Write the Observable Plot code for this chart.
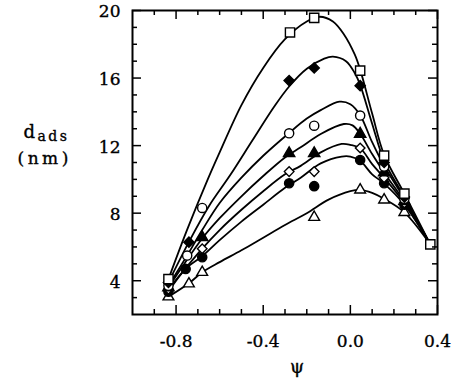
<!DOCTYPE html>
<html><head><meta charset="utf-8">
<script src="https://cdn.jsdelivr.net/npm/d3@7"></script>
<script src="https://cdn.jsdelivr.net/npm/@observablehq/plot@0.6"></script>
<style>
body{margin:0;background:#fff;}
#wrap{width:460px;height:386px;}
</style></head><body>
<div id="wrap"></div>
<script>
// tick values
const xTicksMajor = [-0.8, -0.4, 0.0, 0.4];
const xTicksMinor = [-0.9, -0.7, -0.6, -0.5, -0.3, -0.2, -0.1, 0.1, 0.2, 0.3];
const yTicksMajor = [4, 8, 12, 16, 20];
const yTicksMinor = [3, 5, 6, 7, 9, 10, 11, 13, 14, 15, 17, 18, 19];

// measured points [psi, d_ads]
const openSquarePts = [[-0.835,4.1],[-0.277,18.7],[-0.166,19.56],[0.045,16.44],[0.155,11.41],[0.248,9.16],[0.367,6.15]];
const filledDiamondPts = [[-0.835,3.9],[-0.741,6.28],[-0.281,15.85],[-0.166,16.6],[0.045,15.55],[0.155,11.0],[0.248,8.95]];
const openCirclePts = [[-0.835,3.7],[-0.749,5.49],[-0.68,8.31],[-0.281,12.73],[-0.166,13.18],[0.045,13.78],[0.155,10.76],[0.248,8.85]];
const filledTrianglePts = [[-0.835,3.6],[-0.68,6.57],[-0.281,11.54],[-0.166,11.54],[0.045,12.69],[0.155,10.4],[0.248,8.7]];
const openDiamondPts = [[-0.835,3.5],[-0.68,5.89],[-0.281,10.46],[-0.166,10.46],[0.045,11.86],[0.155,10.1],[0.248,8.6]];
const filledCirclePts = [[-0.835,3.35],[-0.756,4.7],[-0.68,5.39],[-0.281,9.77],[-0.166,9.6],[0.045,11.15],[0.155,9.77],[0.248,8.5]];
const openTrianglePts = [[-0.835,3.05],[-0.741,3.82],[-0.68,4.5],[-0.166,7.76],[0.045,9.38],[0.155,8.79],[0.248,8.05]];

// fitted curves
const openSquareFit = [[-0.835,4.1],[-0.75,7.0],[-0.657,9.93],[-0.6,11.6],[-0.5,14.4],[-0.4,16.6],[-0.3,18.3],[-0.2,19.35],[-0.14,19.63],[-0.08,19.35],[-0.03,18.6],[0.02,17.4],[0.045,16.5],[0.1,13.9],[0.155,11.45],[0.248,9.15],[0.367,6.15]];
const filledDiamondFit = [[-0.835,3.9],[-0.741,6.3],[-0.65,8.4],[-0.549,10.3],[-0.45,12.3],[-0.35,14.3],[-0.281,15.5],[-0.2,16.55],[-0.12,17.15],[-0.08,17.27],[-0.02,17.0],[0.02,16.3],[0.045,15.6],[0.1,13.3],[0.155,11.1],[0.248,8.95],[0.367,6.15]];
const openCircleFit = [[-0.835,3.7],[-0.749,5.5],[-0.68,7.0],[-0.6,8.6],[-0.5,10.1],[-0.4,11.4],[-0.281,12.75],[-0.2,13.6],[-0.136,14.1],[-0.05,14.6],[0.0,14.45],[0.045,13.8],[0.1,12.2],[0.155,10.8],[0.248,8.85],[0.367,6.15]];
const filledTriangleFit = [[-0.835,3.6],[-0.68,6.5],[-0.6,7.7],[-0.5,9.0],[-0.4,10.2],[-0.3,11.3],[-0.228,11.9],[-0.136,12.69],[-0.03,13.28],[0.01,13.2],[0.045,12.7],[0.1,11.5],[0.155,10.4],[0.248,8.7],[0.367,6.15]];
const openDiamondFit = [[-0.835,3.5],[-0.68,5.9],[-0.6,7.0],[-0.5,8.2],[-0.4,9.3],[-0.3,10.3],[-0.228,10.8],[-0.136,11.6],[-0.04,12.1],[0.0,12.05],[0.045,11.85],[0.1,10.9],[0.155,10.1],[0.248,8.6],[0.367,6.15]];
const filledCircleFit = [[-0.835,3.35],[-0.756,4.7],[-0.68,5.45],[-0.6,6.4],[-0.5,7.5],[-0.4,8.5],[-0.3,9.5],[-0.228,10.1],[-0.136,10.95],[-0.04,11.35],[0.0,11.35],[0.045,11.1],[0.1,10.3],[0.155,9.75],[0.248,8.5],[0.367,6.15]];
const openTriangleFit = [[-0.835,3.05],[-0.741,3.85],[-0.68,4.5],[-0.6,5.1],[-0.5,5.8],[-0.4,6.55],[-0.3,7.3],[-0.2,8.0],[-0.1,8.8],[0.0,9.3],[0.045,9.38],[0.1,9.2],[0.155,8.85],[0.248,8.05],[0.367,6.15]];

const W = 460, H = 386;
const mL = 132, mR = 23, mT = 10, mB = 72;
const PW = W - mL - mR, PH = H - mT - mB;

const fits = [openTriangleFit, filledCircleFit, openDiamondFit, filledTriangleFit, openCircleFit, filledDiamondFit, openSquareFit];
const series = [
  {pts: openTrianglePts, symbol: "triangle", r: 4.0, fill: "white"},
  {pts: filledCirclePts, symbol: "circle", r: 4.6, fill: "black"},
  {pts: openDiamondPts, symbol: "diamond2", r: 4.3, fill: "white"},
  {pts: filledTrianglePts, symbol: "triangle", r: 4.2, fill: "black"},
  {pts: openCirclePts, symbol: "circle", r: 4.6, fill: "white"},
  {pts: filledDiamondPts, symbol: "diamond2", r: 4.6, fill: "black"},
  {pts: openSquarePts, symbol: "square", r: 5.2, fill: "white"}
];

const X = d => d[0], Y = d => d[1];
const marks = [];
for (const f of fits) marks.push(Plot.line(f, {x: X, y: Y, curve: "catmull-rom", stroke: "black", strokeWidth: 1.8}));
for (const s of series) marks.push(Plot.dot(s.pts, {x: X, y: Y, symbol: s.symbol, r: s.r, fill: s.fill, stroke: "black", strokeWidth: 1.4}));
// inward ticks on all four sides
marks.push(
  Plot.ruleX(xTicksMajor, {x: d => d, insetTop: PH - 9, strokeWidth: 1.5}),
  Plot.ruleX(xTicksMinor, {x: d => d, insetTop: PH - 5, strokeWidth: 1.5}),
  Plot.ruleX(xTicksMajor, {x: d => d, insetBottom: PH - 9, strokeWidth: 1.5}),
  Plot.ruleX(xTicksMinor, {x: d => d, insetBottom: PH - 5, strokeWidth: 1.5}),
  Plot.ruleY(yTicksMajor, {y: d => d, insetRight: PW - 9, strokeWidth: 1.5}),
  Plot.ruleY(yTicksMinor, {y: d => d, insetRight: PW - 5, strokeWidth: 1.5}),
  Plot.ruleY(yTicksMajor, {y: d => d, insetLeft: PW - 9, strokeWidth: 1.5}),
  Plot.ruleY(yTicksMinor, {y: d => d, insetLeft: PW - 5, strokeWidth: 1.5}),
  Plot.frame({stroke: "black", strokeWidth: 2}),
  Plot.axisX({ticks: xTicksMajor, tickSize: 0, tickPadding: 20, tickFormat: d => d.toFixed(1), label: null}),
  Plot.axisY({ticks: yTicksMajor, tickSize: 0, tickPadding: 12, dy: 1.5, tickFormat: d => String(d), label: null}),
  Plot.text(["ψ"], {frameAnchor: "bottom", dx: 12, dy: 58, fontSize: 18}),
  Plot.text(["d"], {frameAnchor: "left", dx: -109, dy: -25, textAnchor: "start", lineAnchor: "bottom", fontSize: 18}),
  Plot.text(["ads"], {frameAnchor: "left", dx: -95, dy: -22, textAnchor: "start", lineAnchor: "bottom", fontSize: 14}),
  Plot.text(["(nm)"], {frameAnchor: "left", dx: -115, dy: 1, textAnchor: "start", lineAnchor: "bottom", fontSize: 17})
);

const chart = Plot.plot({
  width: W, height: H,
  marginLeft: mL, marginRight: mR, marginTop: mT, marginBottom: mB,
  x: {domain: [-1.0, 0.4]},
  y: {domain: [2, 20]},
  style: {fontFamily: "DejaVu Serif", fontSize: "17px", color: "black", background: "white"},
  marks
});
chart.querySelectorAll("text").forEach(t => {
  t.style.stroke = "black";
  t.style.strokeWidth = "0.35px";
  if (t.textContent === "ads") t.style.letterSpacing = "2.5px";
  if (t.textContent === "(nm)") t.style.letterSpacing = "3.5px";
});
document.getElementById("wrap").appendChild(chart);
</script>
</body></html>
